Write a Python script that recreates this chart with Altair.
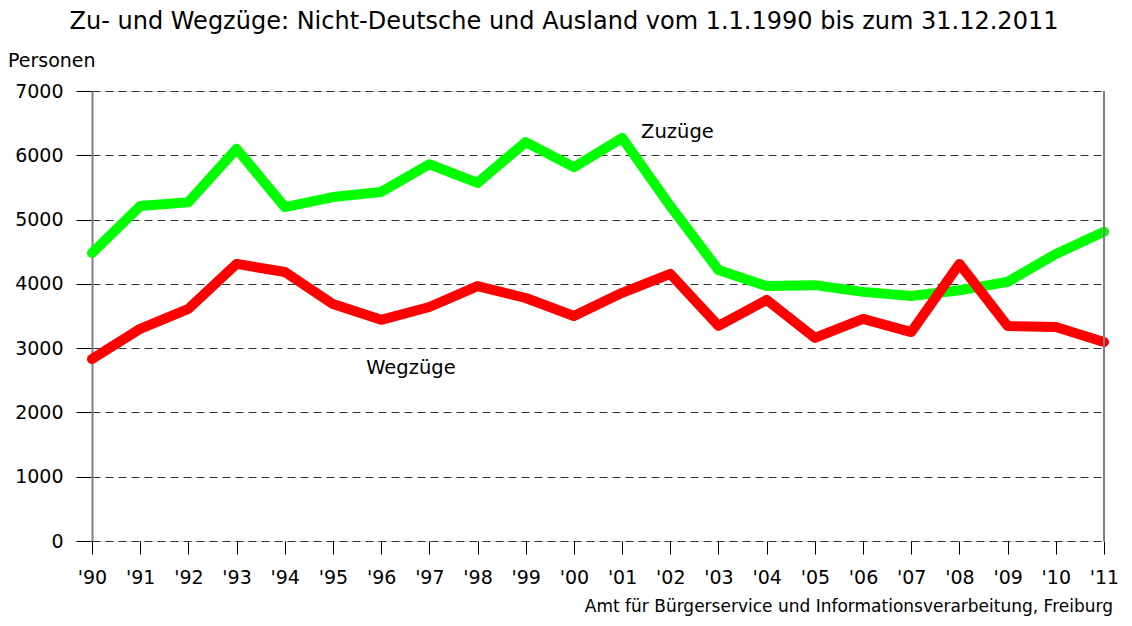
import altair as alt
import pandas as pd

years = ["'90", "'91", "'92", "'93", "'94", "'95", "'96", "'97", "'98", "'99", "'00",
         "'01", "'02", "'03", "'04", "'05", "'06", "'07", "'08", "'09", "'10", "'11"]
zuzuege = [4480, 5210, 5270, 6100, 5195, 5350, 5430, 5860, 5570, 6205, 5815,
           6270, 5210, 4215, 3965, 3980, 3875, 3810, 3900, 4030, 4465, 4810]
wegzuege = [2830, 3300, 3610, 4310, 4185, 3685, 3440, 3640, 3965, 3780, 3500,
            3860, 4155, 3345, 3750, 3160, 3455, 3250, 4310, 3345, 3330, 3095]
series = ["Zuzüge", "Wegzüge"]
colors = ["#00ff00", "#ff0000"]
y_ticks = [0, 1000, 2000, 3000, 4000, 5000, 6000, 7000]

title_text = "Zu- und Wegzüge: Nicht-Deutsche und Ausland vom 1.1.1990 bis zum 31.12.2011"
y_title = "Personen"
footer = "Amt für Bürgerservice und Informationsverarbeitung, Freiburg"

label_year = ["'01", "'96"]
label_value = [6360, 2690]
label_dx = [19, -15]

FONT = "DejaVu Sans"
W, H = 1012, 450

df = pd.DataFrame({
    "Jahr": years * 2,
    "Personen": zuzuege + wegzuege,
    "Art": [series[0]] * len(years) + [series[1]] * len(years),
})

x_enc = alt.X("Jahr:O", sort=years,
              scale=alt.Scale(type="point", padding=0),
              axis=alt.Axis(title=None, labelAngle=0, domain=False, grid=False,
                            tickColor="#000000", tickSize=13, tickWidth=1,
                            labelFont=FONT, labelFontSize=19, labelColor="#000000",
                            labelPadding=14))
y_enc = alt.Y("Personen:Q",
              scale=alt.Scale(domain=[0, 7000], nice=False),
              axis=alt.Axis(title=None, values=y_ticks, format="d",
                            grid=True, gridColor="#333333", gridDash=[8, 5], gridWidth=1,
                            domain=True, domainColor="#808080", domainWidth=2,
                            tickColor="#000000", tickSize=16,
                            labelFont=FONT, labelFontSize=19, labelColor="#000000",
                            labelPadding=13))

lines = alt.Chart(df).mark_line(strokeWidth=10, strokeCap="round", strokeJoin="round").encode(
    x=x_enc,
    y=y_enc,
    color=alt.Color("Art:N", scale=alt.Scale(domain=series, range=colors), legend=None),
    detail="Art:N",
)

lab_df = pd.DataFrame({"Jahr": label_year, "Personen": label_value, "t": series, "dx": label_dx})
labels = alt.Chart(lab_df).transform_filter(alt.datum.t == series[0]).mark_text(
    align="left", baseline="middle", font=FONT, fontSize=19.5, color="#000000", dx=label_dx[0]
).encode(x=alt.X("Jahr:O", sort=years), y="Personen:Q", text="t:N")
labels2 = alt.Chart(lab_df).transform_filter(alt.datum.t == series[1]).mark_text(
    align="left", baseline="middle", font=FONT, fontSize=19.5, color="#000000", dx=label_dx[1]
).encode(x=alt.X("Jahr:O", sort=years), y="Personen:Q", text="t:N")

txt_df = pd.DataFrame({"title": [title_text], "ytitle": [y_title], "footer": [footer]})
title_mark = alt.Chart(txt_df).mark_text(
    align="center", baseline="middle", font=FONT, fontSize=24, color="#000000"
).encode(x=alt.value(472), y=alt.value(-69), text="title:N")
ytitle_mark = alt.Chart(txt_df).mark_text(
    align="left", baseline="middle", font=FONT, fontSize=19, color="#000000"
).encode(x=alt.value(-84), y=alt.value(-30), text="ytitle:N")
footer_mark = alt.Chart(txt_df).mark_text(
    align="right", baseline="alphabetic", font=FONT, fontSize=17, color="#000000"
).encode(x=alt.value(1021), y=alt.value(521), text="footer:N")

right_rule = alt.Chart(txt_df).mark_rule(color="#808080", strokeWidth=2).encode(
    x=alt.value(W), y=alt.value(0), y2=alt.value(H))

chart = alt.layer(lines, labels, labels2, right_rule, title_mark, ytitle_mark, footer_mark).properties(
    width=W, height=H,
    autosize=alt.AutoSizeParams(type="none"),
    padding={"left": 84, "top": 83, "right": 18, "bottom": 76},
).configure_view(stroke=None).configure(background="#ffffff")

chart.save("out.html", embed_options={"renderer": "svg", "actions": False})
